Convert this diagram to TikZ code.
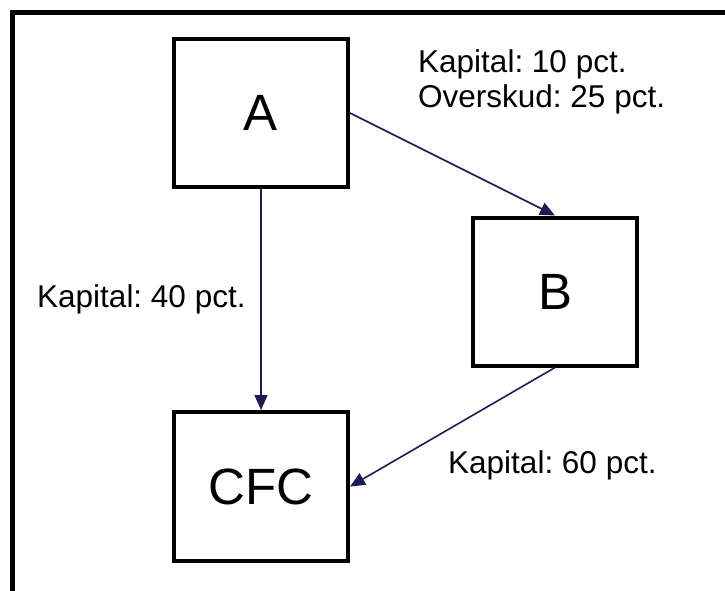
\documentclass[tikz,border=0pt]{standalone}
\usepackage{fontspec}
\setmainfont{Liberation Sans}
\usetikzlibrary{arrows.meta}
\definecolor{navy}{RGB}{28,28,78}
\frenchspacing
\begin{document}
\begin{tikzpicture}[x=1pt,y=-1pt,
  box/.style={draw=black,line width=4pt,minimum width=174pt,inner sep=0pt,
    font=\fontsize{51}{55}\selectfont},
  conn/.style={draw=navy,line width=1.6pt,-{Triangle[length=15pt,width=13pt]}},
  lbl/.style={anchor=base west,inner sep=0pt,align=left,
    font=\fontsize{31.5}{35}\selectfont}]
\useasboundingbox (0,0) rectangle (725,590);
\begin{scope}
\clip (0,0) rectangle (725,590);
\draw[line width=5pt] (12,620) -- (12,12.5) -- (760,12.5);
\end{scope}
\node[box,minimum height=148pt] (A) at (261,113) {A};
\node[box,minimum width=164pt,minimum height=148pt] (B) at (555,291.5) {B};
\node[box,minimum height=149pt] (C) at (261,486.5) {CFC};
\draw[conn] (A.south) -- (C.north);
\draw[conn] (A.east) -- (B.north);
\draw[conn] (B.south) -- (C.east);
\node[lbl] (l1) at (37,307) {Kapital: 40 pct.};
\node[lbl] (l2) at (418,107) {Kapital: 10 pct.\\Overskud: 25 pct.};
\node[lbl] (l3) at (448,473) {Kapital: 60 pct.};
\end{tikzpicture}
\end{document}
